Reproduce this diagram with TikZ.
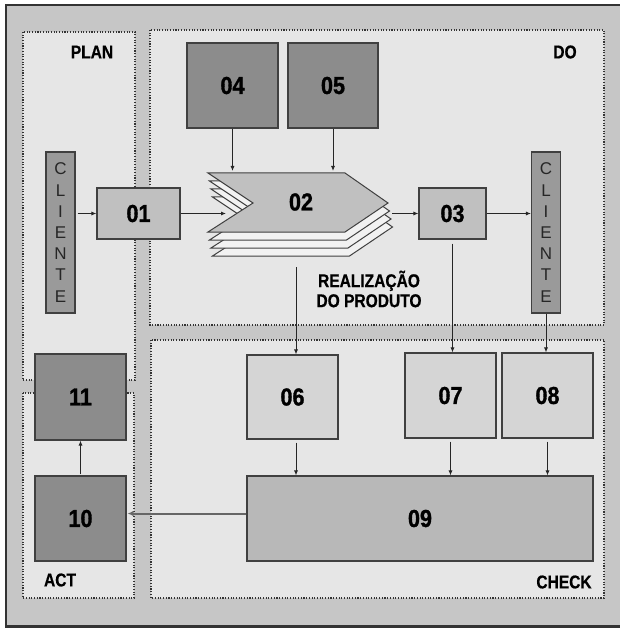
\documentclass[tikz,border=0pt]{standalone}
\usepackage{fontspec}
\setmainfont{Liberation Sans}
\newfontfamily\tagfont{Liberation Sans}[FakeStretch=0.84,FakeBold=0.6]
\newfontfamily\numfont{Liberation Sans}[FakeStretch=0.88,FakeBold=1.2]
\usetikzlibrary{arrows.meta,positioning}
\definecolor{framegray}{HTML}{C6C6C6}
\definecolor{panelgray}{HTML}{E6E6E6}
\definecolor{darkbox}{HTML}{8C8C8C}
\definecolor{clientbox}{HTML}{9A9A9A}
\definecolor{midbox}{HTML}{C0C0C0}
\definecolor{lightbox}{HTML}{D5D5D5}
\definecolor{widebox}{HTML}{B8B8B8}
\tikzset{
  frame/.style={draw=black!80, line width=2.5pt, fill=framegray},
  panel/.style={draw=black!80, dash pattern=on 1.1pt off 1.6pt, line width=1.1pt, fill=panelgray},
  box/.style={draw=black!75, line width=1.1pt, inner sep=0pt, text=black,
    font=\numfont\bfseries\fontsize{24.5}{24.5}\selectfont},
  size/.style 2 args={minimum width=#1pt, minimum height=#2pt},
  client/.style={box, fill=clientbox, size={29}{161}, align=center, text=black!85,
    font=\fontsize{17}{21.2}\selectfont},
  sheet/.style={draw=black!75, line width=1pt, fill=white!95!black},
  chevron/.style={draw=black!75, line width=1pt, fill=midbox},
  link/.style={-{Latex[length=5pt,width=4pt]}, black!85, line width=0.8pt},
  backlink/.style={-{Latex[length=6pt,width=5.5pt]}, black!60, line width=2pt},
  tag/.style={font=\tagfont\bfseries\fontsize{18.5}{22}\selectfont, align=center, inner sep=0pt}
}

\begin{document}
\begin{tikzpicture}[x=1pt, y=-1pt]
  \draw[frame] (6,5) rectangle (625,626.5);
  \draw[panel] (23,32) rectangle (135,380);
  \draw[panel] (150,30) rectangle (604,325);
  \draw[panel] (23,393) rectangle (134,598);
  \draw[panel] (151,340) rectangle (604,598);
  \node[tag] (plan) at (92,52) {PLAN};
  \node[tag] (do) at (565,52) {DO};
  \node[tag] (act) at (60,580) {ACT};
  \node[tag] (check) at (564,582) {CHECK};
  \node[tag] (real) at (369,289) {REALIZAÇÃO\\[-2pt]DO PRODUTO};

  \foreach \dx/\dy in {4.5/24,3/16,1.5/8}{
    \draw[sheet, shift={(\dx,\dy)}] (208,173) -- (345,173) -- (388,203) -- (345,232) -- (208,232) -- (253,203) -- cycle;
  }
  \draw[chevron] (208,173) -- (345,173) -- (388,203) -- (345,232) -- (208,232) -- (253,203) -- cycle;
  \node[box, draw=none] (n02) at (301,202) {02};
  \coordinate (in02) at (226,213.5);
  \coordinate (top02) at (300,171);
  \coordinate (out02) at (392,213.5);
  \coordinate (low02) at (296,267);

  \node[box, fill=darkbox, size={91}{85}] (n04) at (232.5,85.5) {04};
  \node[box, fill=darkbox, size={90}{85}] (n05) at (333,85.5) {05};
  \node[client] (cliL) at (60.5,232.5) {C\\L\\I\\E\\N\\T\\E};
  \node[client] (cliR) at (546,232.5) {C\\L\\I\\E\\N\\T\\E};
  \node[box, fill=midbox, size={83}{51}] (n01) at (138.5,213.5) {01};
  \node[box, fill=midbox, size={67}{51}] (n03) at (452.5,213.5) {03};
  \node[box, fill=lightbox, size={91}{84}] (n06) at (292.5,397) {06};
  \node[box, fill=lightbox, size={91}{85}] (n07) at (450.5,395.5) {07};
  \node[box, fill=lightbox, size={91}{85}] (n08) at (547.5,395.5) {08};
  \node[box, fill=widebox, size={346}{85}] (n09) at (420,518.5) {09};
  \node[box, fill=darkbox, size={91}{86}] (n11) at (80.5,397) {11};
  \node[box, fill=darkbox, size={91}{85}] (n10) at (80.5,518.5) {10};

  \draw[link, shorten <=2pt] (cliL.east |- n01) -- (n01.west);
  \draw[link] (n01.east) -- (in02);
  \draw[link] (n04.south) -- (n04.south |- top02);
  \draw[link] (n05.south) -- (n05.south |- top02);
  \draw[link] (out02) -- (n03.west);
  \draw[link] (n03.east) -- (n03.east -| cliR.west);
  \draw[link] (low02) -- (low02 |- n06.north);
  \draw[link, shorten <=4pt] (n03.south) -- (n03.south |- n07.north);
  \draw[link] (cliR.south) -- (cliR.south |- n08.north);
  \draw[link, shorten <=3pt] (low02 |- n06.south) -- (low02 |- n09.north);
  \draw[link, shorten <=3pt] (n07.south) -- (n07.south |- n09.north);
  \draw[link, shorten <=3pt] (n08.south) -- (n08.south |- n09.north);
  \draw[backlink, shorten >=1pt] ([yshift=5pt]n09.west) -- ([yshift=5pt]n09.west -| n10.east);
  \draw[link, shorten <=1pt] (n10.north) -- (n11.south);

  \pgfresetboundingbox
  \useasboundingbox (0,0) rectangle (619,628);
\end{tikzpicture}
\end{document}
